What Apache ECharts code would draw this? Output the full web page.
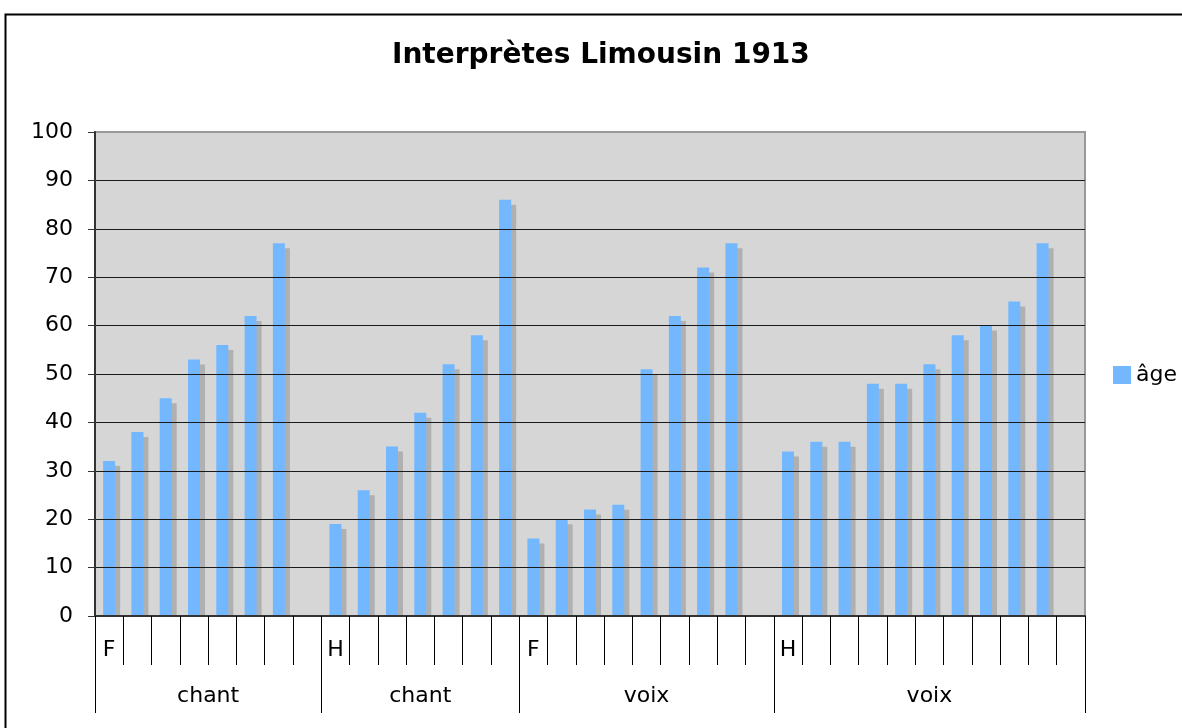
<!DOCTYPE html>
<html>
<head>
<meta charset="utf-8">
<script src="https://cdn.jsdelivr.net/npm/echarts@6/dist/echarts.min.js"></script>
<style>
    html, body { margin: 0; padding: 0; background: #fff; }
    #chart { width: 1182px; height: 728px; }
</style>
</head>
<body>
<div id="chart"></div>
<script>
// groupes : type d'interprétation + sexe
const groupNames = ["chant", "chant", "voix", "voix"];
const groupSex = ["F", "H", "F", "H"];
const groupSizes = [8, 7, 9, 11];

// âge de chaque interprète (null = case vide)
const ages = [
    32, 38, 45, 53, 56, 62, 77, null,
    19, 26, 35, 42, 52, 58, 86,
    16, 20, 22, 23, 51, 62, 72, 77, null,
    34, 36, 36, 48, 48, 52, 58, 60, 65, 77, null
];

const yTicks = [0, 10, 20, 30, 40, 50, 60, 70, 80, 90, 100];

// catégories de premier niveau
const catIds = [];
const catLabels = [];
const groupEdges = [0];
const groupCenters = [];
let pos = 0;
groupSizes.forEach(function (size, g) {
    for (let i = 0; i < size; i++) {
        catIds.push(g + "-" + i);
        catLabels.push(i === 0 ? groupSex[g] : "");
    }
    groupCenters.push(pos + size / 2);
    pos += size;
    groupEdges.push(pos);
});
const cellEdges = [];
for (let i = 0; i <= catIds.length; i++) cellEdges.push(i);

const font = "DejaVu Sans, Verdana, sans-serif";
const chart = echarts.init(document.getElementById("chart"));
const option = {
    animation: false,
    title: {
        text: "Interprètes Limousin 1913",
        left: 392,
        top: 42,
        padding: 0,
        textStyle: { fontFamily: font, fontSize: 28, fontWeight: "bold", color: "#000" }
    },
    legend: {
        data: ["âge"],
        left: 1113,
        top: 364,
        padding: 0,
        icon: "rect",
        itemWidth: 18,
        itemHeight: 18,
        itemGap: 6,
        textStyle: { fontFamily: font, fontSize: 22, color: "#000" }
    },
    grid: {
        left: 95,
        right: 97,
        top: 132,
        bottom: 112,
        show: true,
        backgroundColor: "#d6d6d6",
        borderColor: "#999",
        borderWidth: 2
    },
    graphic: [
        {
            type: "rect",
            left: 3,
            top: 12,
            shape: { width: 1200, height: 740 },
            style: { fill: "none", stroke: "#000", lineWidth: 2 },
            z: 0
        },
        {
            // masque l'ombre des barres sous l'axe
            type: "rect",
            left: 96,
            top: 617,
            shape: { width: 990, height: 7 },
            style: { fill: "#fff" },
            z: 5
        }
    ],
    xAxis: [
        {
            type: "category",
            data: catIds,
            z: 10,
            axisLine: { lineStyle: { color: "#333", width: 2 } },
            axisTick: { show: false },
            axisLabel: {
                interval: 0,
                margin: 23,
                fontFamily: font,
                fontSize: 22,
                color: "#000",
                formatter: function (value, index) { return catLabels[index]; }
            }
        },
        {
            // traits de séparation des cases
            type: "value",
            min: 0,
            max: catIds.length,
            position: "bottom",
            z: 10,
            splitLine: { show: false },
            axisLine: { show: false },
            axisTick: { show: true, length: 49, customValues: cellEdges, lineStyle: { color: "#000" } },
            axisLabel: { show: false }
        },
        {
            type: "value",
            min: 0,
            max: catIds.length,
            position: "bottom",
            z: 10,
            splitLine: { show: false },
            axisLine: { show: false },
            axisTick: { show: true, length: 97, customValues: groupEdges, lineStyle: { color: "#000" } },
            axisLabel: {
                margin: 69,
                customValues: groupCenters,
                fontFamily: font,
                fontSize: 22,
                color: "#000",
                formatter: function (value) {
                    return groupNames[groupCenters.indexOf(value)];
                }
            }
        }
    ],
    yAxis: {
        type: "value",
        min: 0,
        max: 100,
        interval: 10,
        z: 10,
        axisLine: { show: true, lineStyle: { color: "#333", width: 2 } },
        axisTick: { show: true, length: 7, lineStyle: { color: "#333" } },
        axisLabel: {
            margin: 22,
            fontFamily: font,
            fontSize: 22,
            color: "#000",
            customValues: yTicks
        },
        splitLine: { showMinLine: false, showMaxLine: false, lineStyle: { color: "#1a1a1a", width: 1 } }
    },
    series: [
        {
            name: "âge",
            type: "bar",
            data: ages,
            barWidth: 12,
            itemStyle: {
                color: "#73b8ff",
                shadowColor: "#b0b0b0",
                shadowOffsetX: 5,
                shadowOffsetY: 5,
                shadowBlur: 0
            }
        }
    ]
};
chart.setOption(option);
</script>
</body>
</html>
